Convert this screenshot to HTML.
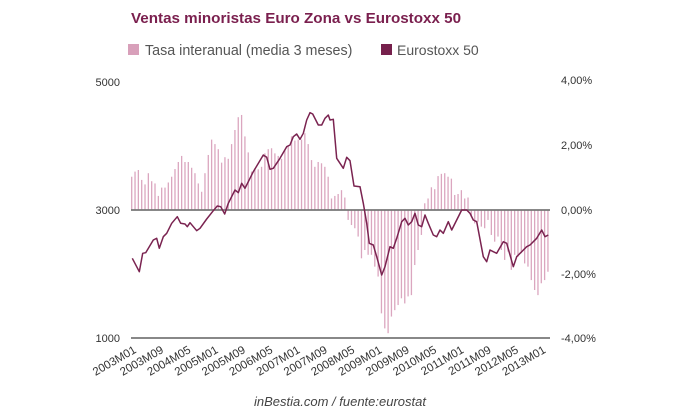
<!DOCTYPE html>
<html><head><meta charset="utf-8"><style>
body{margin:0;background:#fff;width:680px;height:420px;overflow:hidden}
svg{display:block;font-family:"Liberation Sans",sans-serif}
</style></head><body>
<svg id="s" width="680" height="420" xmlns="http://www.w3.org/2000/svg">
<text x="131" y="23" font-size="15.2" font-weight="bold" fill="#7a1f4e">Ventas minoristas Euro Zona vs Eurostoxx 50</text>
<rect x="128" y="44" width="11" height="11" fill="#d8a0ba"/>
<text x="145" y="55" font-size="14.3" fill="#555">Tasa interanual (media 3 meses)</text>
<rect x="381" y="44" width="11" height="11" fill="#76204c"/>
<text x="397" y="55" font-size="14" fill="#555">Eurostoxx 50</text>
<g font-size="11" fill="#333">
<text x="120" y="86" text-anchor="end">5000</text>
<text x="120" y="214" text-anchor="end">3000</text>
<text x="120" y="342" text-anchor="end">1000</text>
<text x="561" y="84">4,00%</text>
<text x="561" y="149">2,00%</text>
<text x="561" y="214">0,00%</text>
<text x="561" y="278">-2,00%</text>
<text x="561" y="342">-4,00%</text>
</g>
<g id="bars" stroke="#dba6bf" stroke-width="1.3"></g>
<line x1="131" y1="210" x2="550" y2="210" stroke="#777" stroke-width="1.8"/>
<line x1="131" y1="338" x2="550" y2="338" stroke="#777" stroke-width="1.8"/>
<polyline id="ln" fill="none" stroke="#7a2350" stroke-width="1.5" stroke-linejoin="round"/>
<g id="xl" font-size="11.5" fill="#333"></g>
<text x="340" y="406" font-size="13" font-style="italic" fill="#444" text-anchor="middle">inBestia.com / fuente:eurostat</text>
</svg>
<script>
var b=[1.04,1.2,1.25,.94,.8,1.15,.9,.83,.44,.7,.7,.86,1.04,1.28,1.5,1.69,1.5,1.5,1.32,1.15,.83,.57,1.15,1.72,2.2,2.06,1.9,1.48,1.65,1.6,2.06,2.5,2.9,2.97,2.3,1.8,1.2,1.3,1.27,1.35,1.77,1.9,1.93,1.77,1.69,1.6,1.87,1.98,2.3,2.17,2.2,2.2,2.4,2.06,1.56,1.35,1.5,1.46,1.35,1.04,
.36,.44,.5,.62,.39,-.31,-.47,-.57,-.83,-1.51,-1.25,-1.4,-1.4,-1.77,-2.08,-3.23,-3.7,-3.85,-3.33,-3.13,-2.97,-2.76,-2.92,-2.7,-2.66,-1.72,-1.25,-.78,.21,.36,.71,.65,1.06,1.13,1.15,1.04,.98,.47,.5,.62,.36,.39,-.21,-.42,-.36,-.52,-.57,-.31,-.78,-.99,-.83,-1.25,-1.56,-1.3,-1.87,-1.4,-1.46,-1.35,-1.67,-1.77,-2.19,-2.5,-2.66,-2.29,-2.19,-1.93];
var ns="http://www.w3.org/2000/svg",g=document.getElementById("bars");
b.forEach(function(v,i){var x=131.7+3.33*i,l=document.createElementNS(ns,"line");l.setAttribute("x1",x);l.setAttribute("x2",x);l.setAttribute("y1",210);l.setAttribute("y2",210-v*32);g.appendChild(l);});
var z1=[[97,565],[118,605],[128,550],[137,548],[160,510],[170,505],[178,535],[190,500],[200,490],[215,460],[232,440],[242,460],[255,462],[262,470],[270,458],[290,482],[300,475],[320,447],[340,422],[352,408],[362,410],[374,432],[385,400],[405,360],[415,368],[425,340],[435,355],[460,305],[490,255],[500,262],[510,298],[520,295],[540,265],[560,230],[570,225],[580,200],[590,192],[600,208],[610,190],[620,150],[630,128],[638,132],[655,165],[665,165],[675,145],[685,135]];
var z2=[[0,150],[10,148],[20,265],[40,295],[50,262],[60,272],[72,348],[90,350],[100,400],[110,460],[118,520],[130,525],[140,560],[155,615],[165,590],[180,530],[190,535],[200,505],[215,455],[225,445],[235,465],[245,455],[255,430],[265,465],[275,470],[285,435],[295,460],[310,495],[320,500],[330,480],[340,490],[355,455],[365,480],[380,450],[395,420],[410,420],[420,430],[430,450],[440,455],[460,560],[470,575],[480,540],[490,545],[500,550],[520,515],[530,520],[550,590],[560,560],[590,530],[600,525],[620,505],[635,480],[645,500],[655,495]];
var p=z1.map(function(a){return (a[0]/3+100).toFixed(1)+","+(a[1]/3+70).toFixed(1)}).concat(z2.map(function(a){return (a[0]/3+330).toFixed(1)+","+(a[1]/3+70).toFixed(1)}));
document.getElementById("ln").setAttribute("points",p.join(" "));
var labs=["2003M01","2003M09","2004M05","2005M01","2005M09","2006M05","2007M01","2007M09","2008M05","2009M01","2009M09","2010M05","2011M01","2011M09","2012M05","2013M01"],xl=document.getElementById("xl");
labs.forEach(function(t,i){var x=137+27.3*i,e=document.createElementNS(ns,"text");e.setAttribute("text-anchor","end");e.setAttribute("transform","translate("+x+",352) rotate(-30)");e.textContent=t;xl.appendChild(e);});
</script>
</body></html>
